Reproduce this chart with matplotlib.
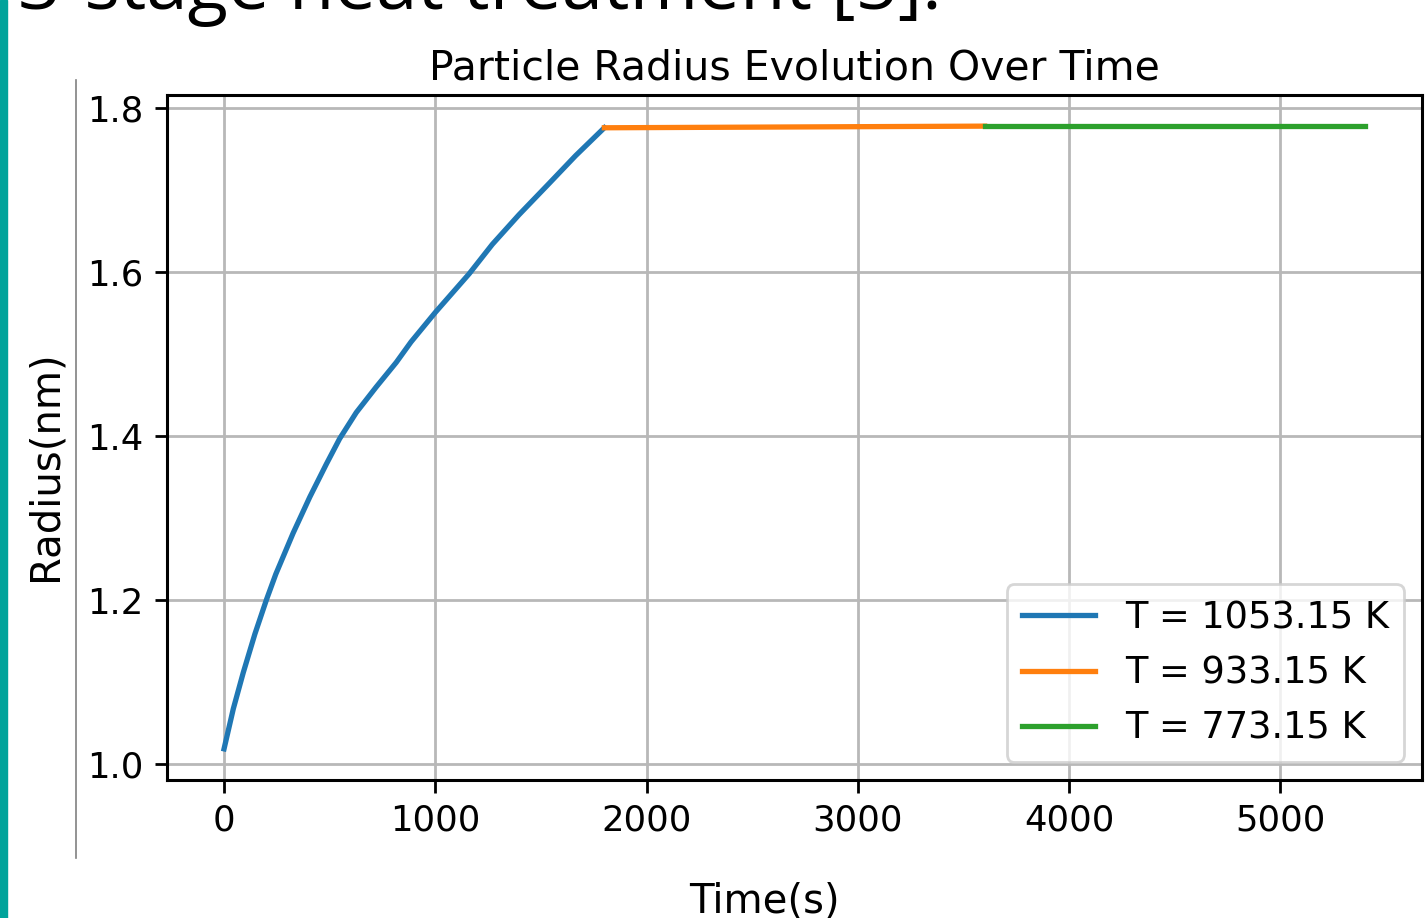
import matplotlib
matplotlib.use("Agg")
import matplotlib.pyplot as plt
from matplotlib.lines import Line2D

# ----------------------------
# Data
# ----------------------------
t_stage1 = [0, 44, 91, 146, 201, 245, 327, 406, 484, 547, 626, 720, 815, 885,
            1000, 1160, 1270, 1396, 1538, 1664, 1800]
r_stage1 = [1.019, 1.068, 1.112, 1.159, 1.201, 1.232, 1.282, 1.326, 1.366, 1.397,
            1.429, 1.460, 1.490, 1.515, 1.551, 1.598, 1.634, 1.670, 1.708, 1.742,
            1.776]
t_stage2 = [1800, 2700, 3600]
r_stage2 = [1.776, 1.777, 1.778]
t_stage3 = [3600, 4500, 5400]
r_stage3 = [1.778, 1.778, 1.778]
labels = ["T = 1053.15 K", "T = 933.15 K", "T = 773.15 K"]

W, H = 1427, 918
fig = plt.figure(figsize=(W / 100, H / 100), dpi=100)

# slide decoration
fig.patches.append(plt.Rectangle((0, 0), 7 / W, 1, transform=fig.transFigure,
                                 color="#00A39B", zorder=0))
fig.lines.append(Line2D([75.5 / W, 75.5 / W], [1 - 858 / H, 1 - 80 / H],
                        transform=fig.transFigure, color="#808080", lw=1.2))
fig.text(18 / W, 1 - 9 / H, "3-stage heat treatment [5].", fontsize=53.5,
         family="Open Sans", ha="left", va="baseline")

ax = fig.add_axes([167 / W, (H - 780) / H, (1422 - 167) / W, (780 - 95) / H])
lw = 3.8
ax.plot(t_stage1, r_stage1, color="#1f77b4", lw=lw, label=labels[0],
        solid_joinstyle="round")
ax.plot(t_stage2, r_stage2, color="#ff7f0e", lw=lw, label=labels[1])
ax.plot(t_stage3, r_stage3, color="#2ca02c", lw=lw, label=labels[2])

ax.grid(True, color="#b8b8b8", lw=2)
ax.set_yticks([1.0, 1.2, 1.4, 1.6, 1.8])
ax.set_xticks([0, 1000, 2000, 3000, 4000, 5000])
ax.tick_params(labelsize=25.5, length=9, width=2, pad=8)
for s in ax.spines.values():
    s.set_linewidth(2.2)

leg = ax.legend(loc="lower right", fontsize=26.5, borderaxespad=0.5)
leg.get_frame().set_linewidth(2)

fig.text(794 / W, 1 - 80 / H, "Particle Radius Evolution Over Time",
         fontsize=29.5, ha="center", va="baseline")
fig.text(45 / W, 1 - 466 / H, "Radius(nm)", fontsize=29, rotation=90,
         ha="center", va="center")
fig.text(764 / W, 1 - 881 / H, "Time(s)", fontsize=29, ha="center", va="top")

fig.savefig("out.png", dpi=100)
